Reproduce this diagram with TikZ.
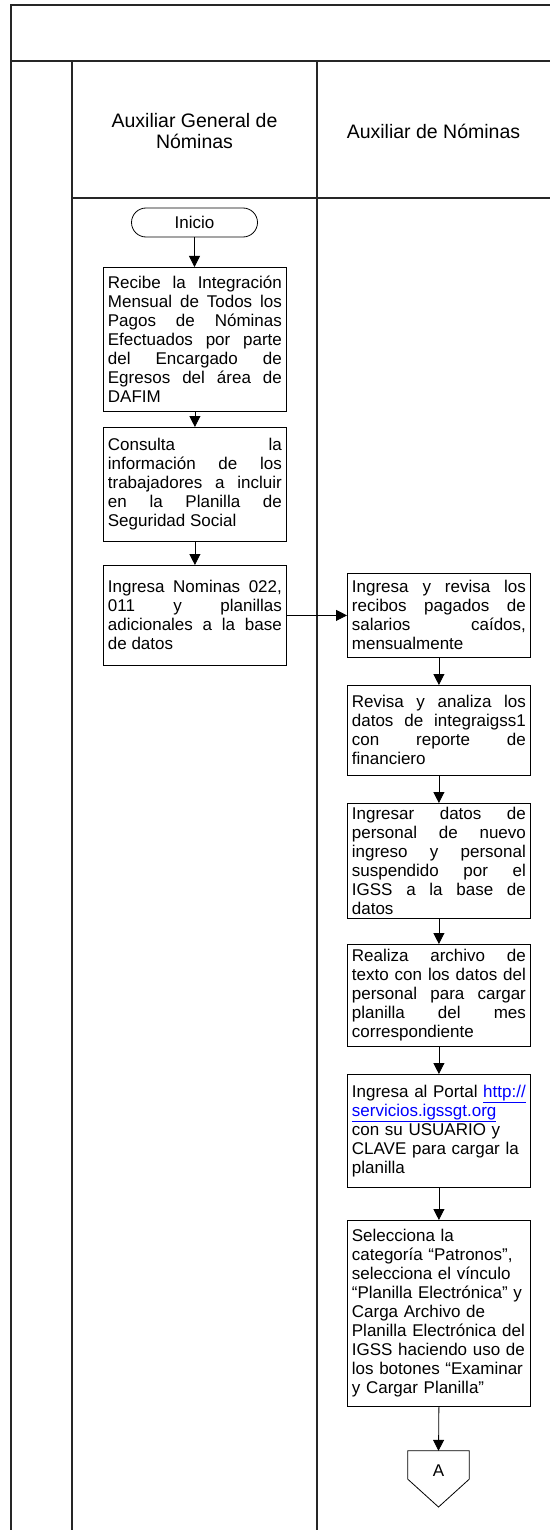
\documentclass[tikz,border=0pt]{standalone}
\usepackage{fontspec}
\setmainfont{Liberation Sans}
\usetikzlibrary{arrows.meta}
\tolerance=10000
\hbadness=10000
\newcommand{\weblink}[1]{{\color{blue}\underline{#1}}}
\begin{document}
\begin{tikzpicture}[x=1pt,y=-1pt,
  lane/.style={line width=1.1pt, draw=black!85},
  lanetitle/.style={align=center, font=\fontsize{19.5}{21}\selectfont, inner sep=0pt},
  procbox/.style={draw, line width=0.8pt, rectangle, anchor=north west,
    text width=174pt, inner xsep=4.5pt, inner ysep=0pt,
    font=\fontsize{17}{19}\selectfont},
  jbox/.style={procbox, align=justify},
  lbox/.style={procbox, align=left},
  startbox/.style={draw, line width=0.8pt, rectangle, rounded corners=14.5pt,
    minimum width=126pt, minimum height=29pt, inner sep=0pt,
    font=\fontsize{17}{19}\selectfont},
  flow/.style={line width=0.8pt, -{Triangle[length=11pt,width=11pt]}}
]
\useasboundingbox (0,0) rectangle (550,1530);

% swimlane frame
\draw[lane] (11,1530) -- (11,5) -- (550,5);
\draw[lane] (11,61) -- (550,61);
\draw[lane] (72,61) -- (72,1530);
\draw[lane] (317,61) -- (317,1530);
\draw[lane] (72,198) -- (550,198);

% lane titles
\node[lanetitle] (t1) at (194.5,131) {Auxiliar General de\\Nóminas};
\node[lanetitle] (t2) at (433.5,131) {Auxiliar de Nóminas};

% left lane
\node[startbox] (inicio) at (194.5,222.5) {Inicio};
\node[jbox, minimum height=144pt] (b1) at (103,267) {Recibe la Integración\linebreak Mensual de Todos los\linebreak Pagos de Nóminas\linebreak Efectuados por parte\linebreak del Encargado de\linebreak Egresos del área de\linebreak DAFIM};
\node[jbox, minimum height=114pt] (b2) at (103,427) {Consulta la\linebreak información de los\linebreak trabajadores a incluir\linebreak en la Planilla de\linebreak Seguridad Social};
\node[jbox, minimum height=100pt] (b3) at (103,565) {Ingresa Nominas 022,\linebreak 011 y planillas\linebreak adicionales a la base\linebreak de datos};

% right lane
\node[jbox, minimum height=84pt] (r1) at (347,573) {Ingresa y revisa los\linebreak recibos pagados de\linebreak salarios caídos,\linebreak mensualmente};
\node[jbox, minimum height=90pt] (r2) at (347,685) {Revisa y analiza los\linebreak datos de integraigss1\linebreak con reporte de\linebreak financiero};
\node[jbox, minimum height=115pt] (r3) at (347,803) {Ingresar datos de\linebreak personal de nuevo\linebreak ingreso y personal\linebreak suspendido por el\linebreak IGSS a la base de\linebreak datos};
\node[jbox, minimum height=102pt] (r4) at (347,944) {Realiza archivo de\linebreak texto con los datos del\linebreak personal para cargar\linebreak planilla del mes\linebreak correspondiente};
\node[lbox, minimum height=113pt] (r5) at (347,1074) {Ingresa al Portal \weblink{http://}\\ \weblink{servicios.igssgt.org}\\ con su USUARIO y\\ CLAVE para cargar la\\ planilla};
\node[lbox, minimum height=186pt] (r6) at (347,1220) {Selecciona la\\ categoría “Patronos”,\\ selecciona el vínculo\\ “Planilla Electrónica” y\\ Carga Archivo de\\ Planilla Electrónica del\\ IGSS haciendo uso de\\ los botones “Examinar\\ y Cargar Planilla”};

% off-page connector A
\node[minimum width=61pt, minimum height=28pt, inner sep=0pt] (pent) at (438.5,1465) {};
\draw[line width=0.8pt] (pent.north west) -- (pent.north east) -- (pent.south east)
  -- (438.5,1507) -- (pent.south west) -- cycle;
\node[font=\fontsize{17}{19}\selectfont, inner sep=0pt] (alabel) at (438.5,1471) {A};

% connectors
\draw[flow] (inicio.south) -- (inicio.south |- b1.north);
\draw[flow] (b1.south) -- (b2.north);
\draw[flow] (b2.south) -- (b3.north);
\draw[flow] (b3.east) -- (r1.west);
\draw[flow] (r1.south) -- (r2.north);
\draw[flow] (r2.south) -- (r3.north);
\draw[flow] (r3.south) -- (r4.north);
\draw[flow] (r4.south) -- (r5.north);
\draw[flow] (r5.south) -- (r6.north);
\draw[flow] (r6.south) -- (pent.north);
\end{tikzpicture}
\end{document}
